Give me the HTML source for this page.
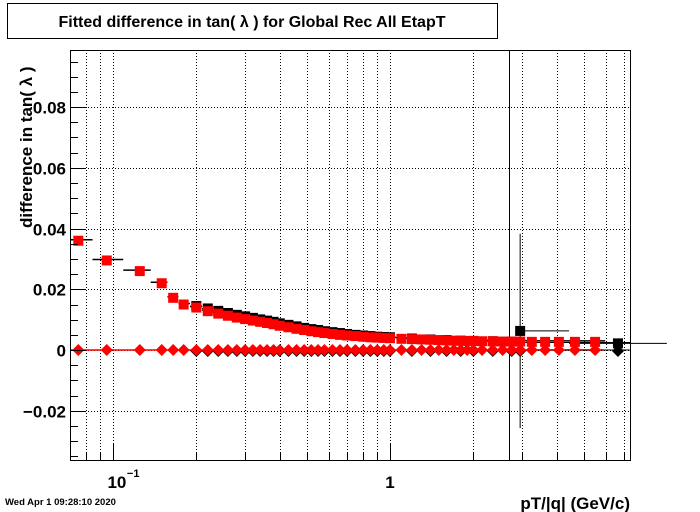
<!DOCTYPE html>
<html><head><meta charset="utf-8"><style>
body{margin:0;background:#fff}
svg{display:block;font-family:"Liberation Sans",sans-serif}
</style></head><body>
<svg id="c" width="700" height="512" viewBox="0 0 700 512">
<rect x="0" y="0" width="700" height="512" fill="#fff"/>
<rect x="7.5" y="3.5" width="490" height="35" fill="#fff" stroke="#000"/>
<text x="252" y="27" text-anchor="middle" font-size="16" font-weight="bold">Fitted difference in tan( λ ) for Global Rec All EtapT</text>
<g id="grid"></g>
<g id="marks"></g>
<rect x="70.5" y="50.5" width="560" height="410" fill="none" stroke="#000"/>
<g id="axes"></g>
<text transform="translate(32,228) rotate(-90)" font-size="17" font-weight="bold">difference in tan( λ )</text>
<text x="630" y="509" text-anchor="end" font-size="17" font-weight="bold">pT/|q| (GeV/c)</text>
<text x="5" y="505" font-size="9.5" font-weight="bold">Wed Apr  1 09:28:10 2020</text>
</svg>
<script>
const pT=[0.075,0.095,0.125,0.15,0.165,0.18,0.2,0.22,0.24,0.26,0.28,0.30,0.32,0.34,0.36,0.38,0.40,0.43,0.46,0.49,0.52,0.55,0.58,0.62,0.66,0.70,0.75,0.80,0.85,0.90,0.95,1.0,1.1,1.2,1.3,1.4,1.5,1.6,1.7,1.8,1.9,2.0,2.15,2.35,2.55,2.75,2.95,3.25,3.63,4.07,4.65,5.5];
const redVals=[0.036,0.0295,0.026,0.022,0.0172,0.015,0.014,0.0128,0.0120,0.0113,0.0107,0.0102,0.0097,0.0093,0.0089,0.0085,0.0080,0.0075,0.0070,0.0066,0.0062,0.0059,0.0056,0.0053,0.0050,0.0048,0.0046,0.0044,0.0042,0.0041,0.0040,0.0039,0.0037,0.0036,0.0035,0.0034,0.0033,0.0032,0.0031,0.0031,0.0030,0.0030,0.0029,0.0029,0.0028,0.0028,0.0028,0.0027,0.0027,0.0027,0.0027,0.0027];
const blackPt=[0.2,0.22,0.24,0.26,0.28,0.30,0.32,0.34,0.36,0.38,0.40,0.43,0.46,0.49,0.52,0.55,0.58,0.62,0.66,0.70,0.75,0.80,0.85,0.90,0.95,1.0,1.2,1.4,1.6,1.8,2.0,2.35,2.75,2.95,6.65];
const blackVals=[0.0145,0.0137,0.0129,0.0122,0.0116,0.0111,0.0106,0.0101,0.0097,0.0093,0.0088,0.0083,0.0078,0.0073,0.0069,0.0066,0.0062,0.0059,0.0056,0.0053,0.0050,0.0048,0.0046,0.0044,0.0043,0.0042,0.0038,0.0035,0.0033,0.0031,0.0030,0.0029,0.0028,0.0063,0.0022];
const blackErr=[0,0,0,0,0,0,0,0,0,0,0,0,0,0,0,0,0,0,0,0,0,0,0,0,0,0,0,0,0,0,0,0,0,0.032,0.0008];
const yMajor=[-0.02,0,0.02,0.04,0.06,0.08];
const yMajorLabels=["\u22120.02","0","0.02","0.04","0.06","0.08"];
const xMinor=[0.08,0.09,0.2,0.3,0.4,0.5,0.6,0.7,0.8,0.9,2,3,4,5,6,7];
const xMajor=[0.1,1];

const X0=70,X1=630,Y0=460,Y1=50,LMIN=Math.log10(0.07),LMAX=Math.log10(7.35),YMIN=-0.0362,YMAX=0.0988;
const xs=p=>X0+(Math.log10(p)-LMIN)/(LMAX-LMIN)*(X1-X0);
const ys=v=>Y0-(v-YMIN)/(YMAX-YMIN)*(Y0-Y1);
const NS="http://www.w3.org/2000/svg";
function mk(par,tag,at){const e=document.createElementNS(NS,tag);for(const k in at)e.setAttribute(k,at[k]);par.appendChild(e);return e;}
const grid=document.getElementById('grid'),marks=document.getElementById('marks'),axes=document.getElementById('axes');
// grid
xMinor.concat(xMajor).forEach(p=>{const x=Math.round(xs(p))+0.5;
 const g=mk(grid,'line',{x1:x,x2:x,y1:Y1,y2:Y0,stroke:'#000','stroke-dasharray':'1,2'});
 
 
 const t=mk(axes,'line',{x1:x,x2:x,y1:Y0,y2:Y0-(xMajor.includes(p)?16:8),stroke:'#000'});
 
 });
yMajor.forEach((v,i)=>{const y=Math.round(ys(v))+0.5;
 const g=mk(grid,'line',{x1:X0,x2:X1,y1:y,y2:y,stroke:'#000','stroke-dasharray':'1,2'});
 
 
 const t=mk(axes,'text',{x:66,y:y+6,'text-anchor':'end','font-size':17,'font-weight':'bold'});
 t.textContent=yMajorLabels[i];
 
 });
for(let v=-0.035;v<=0.0951;v+=0.005){const y=Math.round(ys(v))+0.5;const major=yMajor.some(m=>Math.abs(m-v)<1e-6);
 const t=mk(axes,'line',{x1:X0,x2:X0+(major?16:8),y1:y,y2:y,stroke:'#000'});
 
 }
{const t=mk(axes,'text',{x:xs(0.1)+4,y:488,'text-anchor':'middle','font-size':17,'font-weight':'bold'});t.textContent='10';
 
 
 const s=mk(axes,'text',{x:xs(0.1)+14,y:477,'font-size':11,'font-weight':'bold'});s.textContent='\u22121';
 
 
 const o=mk(axes,'text',{x:xs(1),y:488,'text-anchor':'middle','font-size':17,'font-weight':'bold'});o.textContent='1';
 
 }
// vertical marker line
{const l=mk(marks,'line',{x1:509.5,x2:509.5,y1:Y1,y2:Y0,stroke:'#000'});
 
 }
function edges(arr,i){const lo=i>0?Math.sqrt(arr[i]*arr[i-1]):arr[i]*arr[i]/Math.sqrt(arr[i]*arr[i+1]);
 const hi=i<arr.length-1?Math.sqrt(arr[i]*arr[i+1]):arr[i]*arr[i]/Math.sqrt(arr[i]*arr[i-1]);return [lo,hi];}
// fit lines
{const l=mk(marks,'line',{x1:X0,x2:xs(5.9),y1:ys(0),y2:ys(0),stroke:'#f00','stroke-width':1.5});
 
 
 const b=mk(marks,'line',{x1:509,x2:X1,y1:ys(0),y2:ys(0),stroke:'#000'});
 
 
 const b2=mk(marks,'line',{x1:509,x2:X1,y1:ys(0.0025),y2:ys(0.0025),stroke:'#000'});
 
 }
function square(v,p,col,name,err){const x=xs(p),y=ys(v);
 if(err){const e=mk(marks,'line',{x1:x,x2:x,y1:ys(v+err),y2:ys(v-err),stroke:col});
  
  }
 const r=mk(marks,'rect',{x:x-5,y:y-5,width:10,height:10,fill:col});
 
 return [x,y];}
function diamond(v,p,col,name){const x=xs(p),y=ys(v);
 const d=mk(marks,'polygon',{points:`${x},${y-6} ${x+6},${y} ${x},${y+6} ${x-6},${y}`,fill:col});
 
 }
blackPt.forEach((p,i)=>{diamond(-0.0003,p,'#000','black-diamond');});
blackPt.forEach((p,i)=>{const [lo,hi]=edges(blackPt,i);
 const h=mk(marks,'line',{x1:xs(lo),x2:xs(hi),y1:ys(blackVals[i]),y2:ys(blackVals[i]),stroke:'#000'});
 
 
 square(blackVals[i],p,'#000','black-point',blackErr[i]);});
pT.forEach((p,i)=>{diamond(0,p,'#f00','red-diamond');});
pT.forEach((p,i)=>{const [lo,hi]=edges(pT,i);
 const h=mk(marks,'line',{x1:Math.max(X0,xs(lo)),x2:xs(hi),y1:ys(redVals[i])-1,y2:ys(redVals[i])-1,stroke:'#000','stroke-width':1.5});
 
 
 square(redVals[i],p,'#f00','red-point',0);});
</script>
</body></html>
